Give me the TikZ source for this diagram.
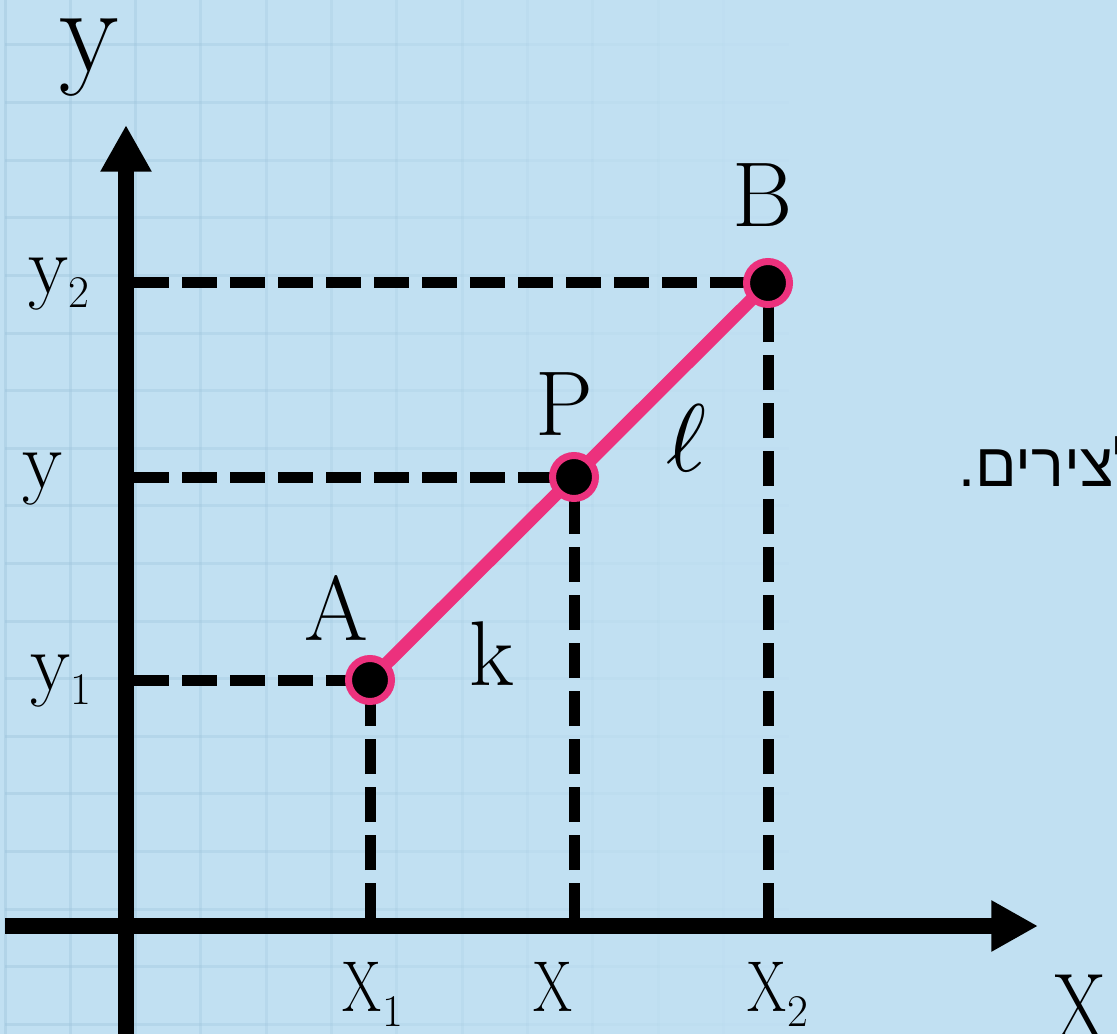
\documentclass[tikz,border=0pt]{standalone}
\usepackage{fontspec}
\usepackage{graphicx}
\newfontfamily\hebfont[Script=Hebrew]{Liberation Sans}
\TeXXeTstate=1
\usetikzlibrary{arrows.meta}
\definecolor{bgblue}{RGB}{193,224,242}
\definecolor{gridblue}{RGB}{160,198,222}
\definecolor{ptpink}{RGB}{236,49,125}
\tikzset{
  axisline/.style={line width=12pt, -{Triangle[length=35pt,width=36pt]}},
  guide/.style={line width=8.25pt, dash pattern=on 26.25pt off 9.75pt},
  seg/.style={line width=9.75pt, ptpink},
  dot/.style={circle, fill=black, draw=ptpink, line width=5.25pt, minimum size=32.25pt, inner sep=0pt},
  ptlab/.style={font=\fontsize{69}{70}\selectfont, inner sep=0pt, anchor=base},
  ylab/.style={font=\fontsize{62}{64}\selectfont, inner sep=0pt, anchor=base west},
  xlab/.style={font=\fontsize{54}{56}\selectfont, inner sep=0pt, anchor=base west},
  gridln/.style={gridblue, line width=2.25pt},
}
\newcommand\lowsub[2]{\raisebox{#1}{\fontsize{34}{34}\selectfont #2}}
\newcommand\narrowX{\scalebox{0.78}[1]{X}}
\begin{document}
\begin{tikzpicture}[x=0.75pt,y=-0.75pt]
\useasboundingbox (0,0) rectangle (1117,1034);
\clip (0,0) rectangle (1117,1034);
\fill[bgblue] (0,0) rectangle (1117,1034);
% fading grid
\foreach \i in {0,...,12} {
  \pgfmathsetmacro\op{0.45*(1-\i/12)}
  \pgfmathsetmacro\xa{5+65.3*\i}
  \pgfmathsetmacro\xb{5+65.3*(\i+1)}
  \draw[gridln, opacity=\op] (\xa,0) -- (\xa,1034);
  \foreach \j in {-1,...,17} {
    \pgfmathsetmacro\yy{45+57.6*\j}
    \draw[gridln, opacity=\op] (\xa,\yy) -- (\xb,\yy);
  }
}
% points and axis coordinates
\coordinate (pA) at (370,680);
\coordinate (pP) at (574,477);
\coordinate (pB) at (768,283);
\coordinate (yAxB) at (126,1045);
\coordinate (yAxT) at (126,125);
\coordinate (xAxL) at (5,926);
\coordinate (xAxR) at (1038,926);
\coordinate (hA) at (134,680);
\coordinate (hP) at (134,477);
\coordinate (hB) at (134,283);
\coordinate (vA) at (370,918);
\coordinate (vP) at (574,918);
\coordinate (vB) at (768,918);
% dashed guides
\draw[guide] (hA) -- (pA);
\draw[guide] (hP) -- (pP);
\draw[guide] (hB) -- (pB);
\draw[guide] (vA) -- (pA);
\draw[guide] (vP) -- (pP);
\draw[guide] (vB) -- (pB);
% segment
\draw[seg] (pA) -- (pB);
% axes
\draw[axisline] (yAxB) -- (yAxT);
\draw[axisline] (xAxL) -- (xAxR);
% dots
\node[dot] (A) at (pA) {};
\node[dot] (P) at (pP) {};
\node[dot] (B) at (pB) {};
% labels
\node[ptlab] (lA) at (336,640) {A};
\node[ptlab] (lP) at (564,435) {P};
\node[ptlab] (lB) at (763,227) {B};
\node[ptlab] (lk) at (492,685) {k};
\node[inner sep=0pt, anchor=base] (lell) at (686,471) {\scalebox{7.2}{$\ell$}};
\node[font=\fontsize{92}{94}\selectfont, inner sep=0pt, anchor=base] (ly) at (89,72) {y};
\node[ylab] (ly2) at (28,293) {y\lowsub{-10.5pt}{2}};
\node[ylab] (lym) at (22,488) {y};
\node[ylab] (ly1) at (30,690) {y\lowsub{-10.5pt}{1}};
\node[xlab] (lx1) at (342,1011) {\narrowX\kern1pt\lowsub{-11.25pt}{1}};
\node[xlab, anchor=base] (lxm) at (553,1011) {\narrowX};
\node[xlab] (lx2) at (747,1011) {\narrowX\kern1pt\lowsub{-11.25pt}{2}};
\node[font=\fontsize{72}{74}\selectfont, inner sep=0pt, anchor=base west] (lX) at (1053,1040) {\scalebox{0.8}[1]{X}};
\node[font=\hebfont\fontsize{46}{48}\selectfont, inner sep=0pt, anchor=base west] (heb) at (958,486) {\beginR לצירים.\endR};
\end{tikzpicture}
\end{document}
